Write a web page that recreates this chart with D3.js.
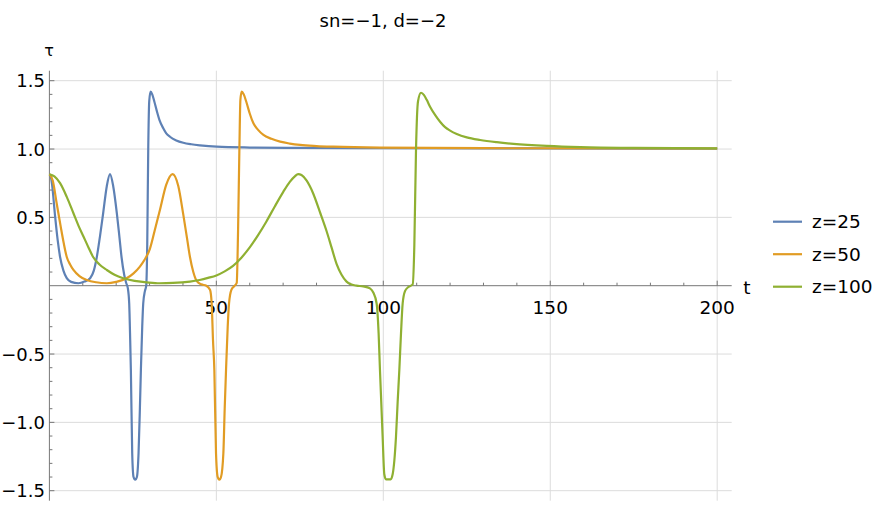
<!DOCTYPE html>
<html>
<head>
<meta charset="utf-8">
<script src="https://cdn.jsdelivr.net/npm/d3@7"></script>
<style>
  body { margin: 0; background: #fff; }
  text { font-family: "DejaVu Sans", "Liberation Sans", sans-serif; fill: #000; }
</style>
</head>
<body>
<div id="canvas"></div>
<script>
// series values: [t, tau]
const z25 = [[0,0.815],[0.4,0.8],[0.8,0.74],[1.7,0.51],[2.5,0.33],[3.2,0.21],[4.2,0.11],[5.2,0.055],[6.5,0.028],[8.7,0.018],
  [10.5,0.03],[12.2,0.055],[13.3,0.11],[14.2,0.21],[15.2,0.37],[16.1,0.53],[17.2,0.73],[18.15,0.817],[19.1,0.73],
  [20.2,0.53],[21,0.35],[21.6,0.21],[22.4,0.08],[23,0.02],[23.5,-0.02],[23.9,-0.13],[24.2,-0.4],[24.4,-0.617],
  [24.8,-1.226],[25.2,-1.4],[25.7,-1.42],[26.2,-1.4],[26.7,-1.226],[27.1,-0.9],[27.4,-0.617],[27.8,-0.3],[28.1,-0.13],
  [28.6,-0.04],[29,0],[29.3,0.3],[29.6,1.0],[29.9,1.35],[30.3,1.42],[30.8,1.4],[31.4,1.35],[32.1,1.285],[33,1.21],
  [34.1,1.152],[35,1.115],[36.1,1.09],[38,1.063],[40.1,1.046],[42.5,1.035],[45.1,1.027],[50.1,1.017],[60,1.011],
  [75,1.008],[100,1.006],[150,1.004],[200,1.003]];
const z50 = [[0,0.815],[1,0.77],[2.2,0.6],[3.4,0.43],[4.3,0.31],[5.2,0.21],[6.2,0.155],[7.2,0.115],[9,0.07],[11.2,0.042],
  [14,0.025],[17.2,0.018],[20,0.028],[23.1,0.054],[25.2,0.09],[27.1,0.14],[28.5,0.19],[30.1,0.27],[31.5,0.4],[33.1,0.554],
  [35,0.74],[36.9,0.817],[38.6,0.73],[40.1,0.52],[41.2,0.35],[42.1,0.21],[43.1,0.1],[44.1,0.035],[45.5,0.01],[47,0],
  [48.1,-0.03],[48.6,-0.13],[49,-0.4],[49.4,-0.617],[49.9,-1.226],[50.4,-1.4],[50.9,-1.42],[51.4,-1.4],[52.1,-1.226],
  [52.5,-0.9],[52.9,-0.617],[53.4,-0.3],[53.8,-0.13],[54.5,-0.03],[55.5,0],[56.1,0.02],[56.5,0.4],[56.9,1.0],[57.2,1.36],
  [57.6,1.42],[58.2,1.4],[59.1,1.335],[60,1.26],[61.1,1.188],[62.5,1.14],[64.1,1.103],[66.5,1.075],[69.1,1.054],
  [72,1.04],[75.1,1.03],[80,1.022],[85,1.017],[99,1.01],[130,1.006],[200,1.004]];
const z100 = [[0,0.815],[1.5,0.8],[3.2,0.75],[5.2,0.65],[7.2,0.53],[8.7,0.44],[10.2,0.36],[11.7,0.28],[13.1,0.21],
  [15,0.155],[17.2,0.115],[19.5,0.08],[22.1,0.054],[25.5,0.035],[29.1,0.025],[33,0.018],[37,0.02],[42.1,0.03],[45,0.042],
  [47.5,0.057],[50,0.075],[52.5,0.105],[55,0.145],[57.5,0.205],[60,0.28],[62.5,0.37],[65,0.47],[67.5,0.58],[70,0.685],
  [72,0.76],[73.5,0.8],[74.5,0.817],[75.5,0.81],[77,0.77],[79,0.675],[81,0.54],[83,0.4],[84.5,0.28],[86,0.16],
  [87.5,0.08],[89,0.03],[90.5,0.008],[92,0],[94,-0.005],[96,-0.02],[97,-0.05],[98,-0.13],[98.6,-0.35],[99,-0.617],
  [99.8,-1.105],[100.3,-1.38],[100.8,-1.417],[102.2,-1.417],[102.8,-1.38],[103.8,-1.105],[104.3,-0.85],[104.8,-0.617],
  [105.3,-0.35],[105.8,-0.13],[106.5,-0.04],[107.5,-0.01],[108.8,0.01],[109.3,0.3],[109.8,1.0],[110.4,1.35],[111.3,1.412],
  [112.2,1.395],[113,1.36],[114,1.31],[115.5,1.25],[117,1.2],[118.5,1.16],[120,1.135],[122,1.11],[125,1.085],[129,1.066],
  [134,1.05],[139,1.038],[149,1.023],[159,1.014],[175,1.008],[200,1.005]];

const seriesNames = ["z=25", "z=50", "z=100"];
const seriesData = [z25, z50, z100];
const seriesColors = ["#5e81b5", "#e19c24", "#8fb032"];

const xMajorTicks = [50, 100, 150, 200];
const yMajorTicks = [-1.5, -1.0, -0.5, 0.5, 1.0, 1.5];
const yTickLabels = ["\u22121.5", "\u22121.0", "\u22120.5", "0.5", "1.0", "1.5"];

const width = 886, height = 509;
const fontSize = "18.5px";
const axisColor = "#777";
const svg = d3.select("#canvas").append("svg")
  .attr("width", width)
  .attr("height", height);

// scales
const x = d3.scaleLinear().domain([0, 200]).range([49.4, 717.2]);
const y = d3.scaleLinear().domain([-1.5, 1.5]).range([490.7, 80.7]);
const xEnd = x.invert(731.7);
const yTop = y.invert(70.7), yBottom = y.invert(500.7);

// grid lines
const grid = svg.append("g").attr("stroke", "#dcdcdc").attr("stroke-width", 1);
grid.selectAll("line.v").data(xMajorTicks).enter().append("line")
  .attr("x1", d => x(d)).attr("x2", d => x(d))
  .attr("y1", y(yTop)).attr("y2", y(yBottom));
grid.selectAll("line.h").data(yMajorTicks).enter().append("line")
  .attr("x1", x(0)).attr("x2", x(xEnd))
  .attr("y1", d => y(d)).attr("y2", d => y(d));

// x axis (ticks point up)
const xMinor = d3.range(10, 201, 10).filter(d => xMajorTicks.indexOf(d) < 0);
const xAxisG = svg.append("g").attr("transform", "translate(0," + y(0) + ")");
xAxisG.append("line").attr("x1", x(0)).attr("x2", x(xEnd)).attr("stroke", axisColor);
xAxisG.selectAll("line.minor").data(xMinor).enter().append("line")
  .attr("x1", d => x(d)).attr("x2", d => x(d)).attr("y1", 0).attr("y2", -3).attr("stroke", axisColor);
xAxisG.selectAll("line.major").data(xMajorTicks).enter().append("line")
  .attr("x1", d => x(d)).attr("x2", d => x(d)).attr("y1", 0).attr("y2", -5).attr("stroke", axisColor);
xAxisG.selectAll("text").data(xMajorTicks).enter().append("text")
  .attr("x", d => x(d)).attr("y", 28.5)
  .attr("text-anchor", "middle")
  .attr("font-size", fontSize)
  .text(d => d);

// y axis (ticks point right)
const yMinor = d3.range(-15, 16).map(d => d / 10).filter(d => yMajorTicks.indexOf(d) < 0 && d !== 0);
const yAxisG = svg.append("g").attr("transform", "translate(" + x(0) + ",0)");
yAxisG.append("line").attr("y1", y(yTop)).attr("y2", y(yBottom)).attr("stroke", axisColor);
yAxisG.selectAll("line.minor").data(yMinor).enter().append("line")
  .attr("y1", d => y(d)).attr("y2", d => y(d)).attr("x1", 0).attr("x2", 3).attr("stroke", axisColor);
yAxisG.selectAll("line.major").data(yMajorTicks).enter().append("line")
  .attr("y1", d => y(d)).attr("y2", d => y(d)).attr("x1", 0).attr("x2", 5).attr("stroke", axisColor);
yAxisG.selectAll("text").data(yMajorTicks).enter().append("text")
  .attr("x", -4.5).attr("y", d => y(d))
  .attr("dy", "0.36em")
  .attr("text-anchor", "end")
  .attr("font-size", "18px")
  .text((d, i) => yTickLabels[i]);

// axis labels and title
svg.append("text").attr("x", 747).attr("y", 287).attr("dy", "0.36em")
  .attr("text-anchor", "middle").attr("font-size", fontSize).text("t");
svg.append("text").attr("x", 49).attr("y", 50).attr("dy", "0.36em")
  .attr("text-anchor", "middle").attr("font-size", "16px").text("\u03c4");
svg.append("text").attr("x", 383).attr("y", 26.5)
  .attr("text-anchor", "middle").attr("font-size", "18px").text("sn=\u22121, d=\u22122");

// curves
const line = d3.line()
  .x(d => x(d[0]))
  .y(d => y(d[1]))
  .curve(d3.curveMonotoneX);

svg.append("g").selectAll("path").data(seriesData).enter().append("path")
  .attr("fill", "none")
  .attr("stroke", (d, i) => seriesColors[i])
  .attr("stroke-width", 2.2)
  .attr("stroke-linejoin", "round")
  .attr("d", d => line(d));

// legend
const legendRows = svg.append("g").selectAll("g").data(seriesNames).enter().append("g")
  .attr("transform", (d, i) => "translate(773," + (221.7 + i * 32.5) + ")");
legendRows.append("line")
  .attr("x1", 0).attr("x2", 29)
  .attr("stroke", (d, i) => seriesColors[i])
  .attr("stroke-width", 2.2);
legendRows.append("text")
  .attr("x", 39).attr("dy", "0.36em")
  .attr("font-size", fontSize)
  .text(d => d);
</script>
</body>
</html>
